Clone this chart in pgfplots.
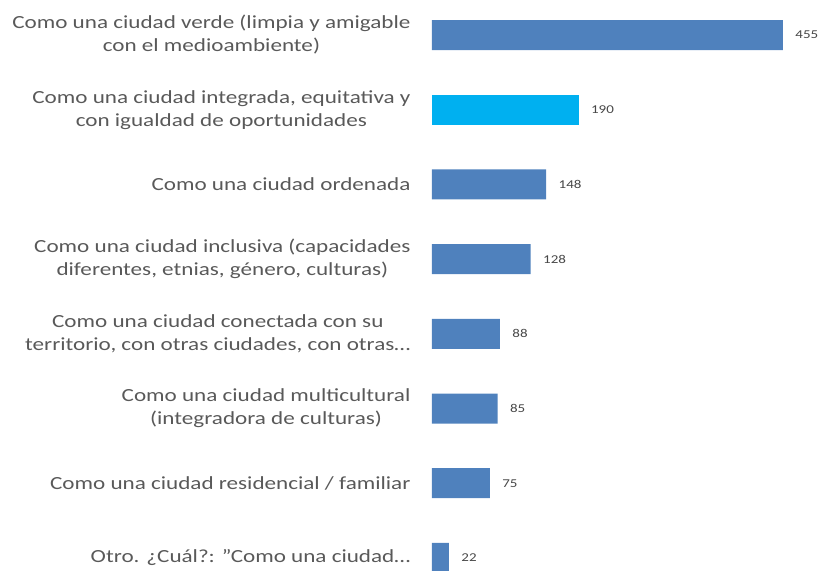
\documentclass[border=0pt]{standalone}
\usepackage{pgfplots}
\pgfplotsset{compat=1.18}
\usepackage{fontspec}
\setmainfont[FakeStretch=1.25]{Carlito}
\definecolor{barblue}{HTML}{4F81BD}
\definecolor{barcyan}{HTML}{00B0F0}
\definecolor{txtgrey}{HTML}{595959}

\begin{document}
\begin{tikzpicture}[x=1pt,y=1pt]
\useasboundingbox (0,0) rectangle (823,571);
\begin{axis}[
    at={(432pt,0pt)}, anchor=south west,
    scale only axis,
    width=391pt, height=571pt,
    xmin=0, xmax=507,
    ymin=-0.4685, ymax=7.175,
    y dir=reverse,
    hide x axis,
    axis y line=left,
    y axis line style={draw=none},
    xbar, bar width=30pt, bar shift=0pt,
    ytick={0,...,7},
    yticklabels={
      {Como una ciudad verde (limpia y amigable\\con el medioambiente)},
      {Como una ciudad integrada, equitativa y\\con igualdad de oportunidades},
      {Como una ciudad ordenada},
      {Como una ciudad inclusiva (capacidades\\diferentes, etnias, género, culturas)},
      {Como una ciudad conectada con su\\territorio, con otras ciudades, con otras…},
      {Como una ciudad multicultural\\(integradora de culturas)},
      {Como una ciudad residencial / familiar},
      {Otro. ¿Cuál?: "Como una ciudad…}},
    yticklabel style={align=center, font=\fontsize{18.5}{23}\selectfont, text=txtgrey, anchor=east, xshift=-18pt},
    major tick length=0pt,
    nodes near coords,
    /pgf/number format/assume math mode=true,
    nodes near coords style={font=\fontsize{12}{13}\selectfont, text=txtgrey!80!black, anchor=west, xshift=9pt},
]
\addplot[fill=barblue, draw=none] coordinates {
    (455,0) (148,2) (128,3) (88,4) (85,5) (75,6) (22,7)
};
\addplot[fill=barcyan, draw=none] coordinates {
    (190,1)
};
\end{axis}
\end{tikzpicture}
\end{document}
